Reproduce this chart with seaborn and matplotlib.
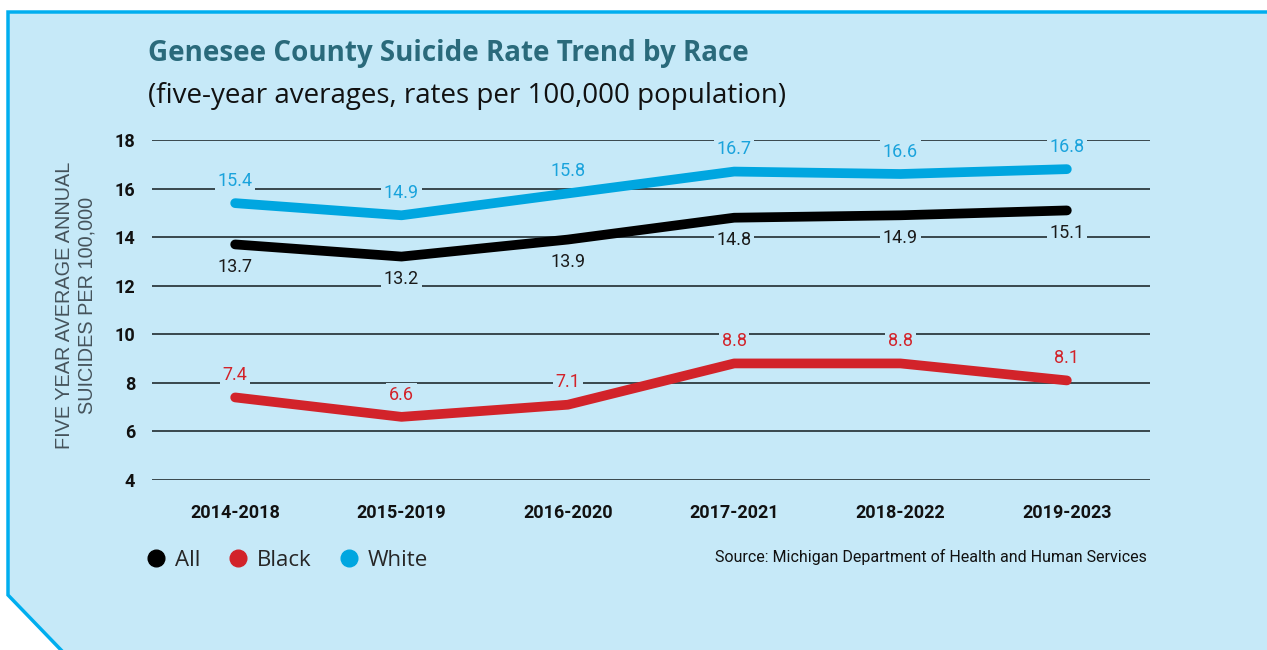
import matplotlib
matplotlib.use("Agg")
import matplotlib.pyplot as plt
from matplotlib.patches import Polygon
from matplotlib.lines import Line2D
import seaborn as sns
import pandas as pd

periods = ['2014-2018', '2015-2019', '2016-2020', '2017-2021', '2018-2022', '2019-2023']
rate_all = [13.7, 13.2, 13.9, 14.8, 14.9, 15.1]
rate_black = [7.4, 6.6, 7.1, 8.8, 8.8, 8.1]
rate_white = [15.4, 14.9, 15.8, 16.7, 16.6, 16.8]
groups = ['All', 'Black', 'White']
y_ticks = [4, 6, 8, 10, 12, 14, 16, 18]

colors = {'All': '#000000', 'Black': '#d2232a', 'White': '#00a6e0'}
label_colors = {'All': '#1a1a1a', 'Black': '#d2232a', 'White': '#1aa3dc'}
panel = '#c6e9f8'
narrow = ['Roboto', 'DejaVu Sans']

df = pd.DataFrame({
    'period': periods * 3,
    'rate': rate_all + rate_black + rate_white,
    'group': ['All'] * 6 + ['Black'] * 6 + ['White'] * 6,
})

sns.set_style('white')
W, H = 1267, 650
fig = plt.figure(figsize=(W / 100, H / 100), dpi=100)
fig.patch.set_facecolor('white')

# background panel with clipped corner
bg = fig.add_axes([0, 0, 1, 1], zorder=0)
bg.set_xlim(0, W)
bg.set_ylim(H, 0)
bg.axis('off')
pts = [(8, 12), (W + 5, 12), (W + 5, H + 5), (63, H + 5), (8, 595)]
bg.add_patch(Polygon(pts, closed=True, facecolor=panel, edgecolor='none'))
bg.plot([W + 5, 8, 8, 63], [12, 12, 595, H + 2], color='#00aeef', lw=2.5, solid_joinstyle='miter')

ax = fig.add_axes([152 / W, 1 - 480 / H, (1150 - 152) / W, (480 - 140) / H], zorder=1)
ax.patch.set_alpha(0)

sns.lineplot(data=df, x='period', y='rate', hue='group', hue_order=groups, palette=colors,
             linewidth=7, sort=False, legend=False, ax=ax, zorder=4,
             solid_capstyle='round', solid_joinstyle='round')

ax.set_xlim(-0.5, 5.5)
ax.set_ylim(4, 18)
ax.set_yticks(y_ticks)
ax.yaxis.grid(True, color='#2e3b40', lw=1.3, zorder=1)
ax.xaxis.grid(False)
ax.set_axisbelow(True)
for s in ax.spines.values():
    s.set_visible(False)
ax.set_xlabel('')
ax.set_ylabel('')
ax.tick_params(axis='y', length=0, pad=12)
ax.tick_params(axis='x', length=0, pad=17)
for t in ax.get_yticklabels() + ax.get_xticklabels():
    t.set_fontfamily(narrow)
    t.set_fontweight('bold')
    t.set_fontsize(13)
    t.set_color('#111111')

# point labels
offsets = {'All': -16, 'Black': 16, 'White': 16}
for g, vals in zip(groups, [rate_all, rate_black, rate_white]):
    for i, v in enumerate(vals):
        ax.annotate(f'{v:.1f}', (i, v), xytext=(0, offsets[g]), textcoords='offset points',
                    ha='center', va='center', fontsize=13, family=narrow,
                    color=label_colors[g], zorder=3,
                    bbox=dict(boxstyle='square,pad=0.15', fc=panel, ec='none'))

fig.text(148 / W, 1 - 54 / H, 'Genesee County Suicide Rate Trend by Race', fontsize=20,
         fontweight='bold', family=['Open Sans', 'DejaVu Sans'], color='#2a6a7b', va='center')
fig.text(148 / W, 1 - 96 / H, '(five-year averages, rates per 100,000 population)', fontsize=20,
         family=['Open Sans', 'DejaVu Sans'], color='#111111', va='center')
fig.text(76 / W, 1 - 305 / H, 'FIVE YEAR AVERAGE ANNUAL\nSUICIDES PER 100,000', rotation=90,
         ha='center', va='center', multialignment='center', fontsize=14.3, linespacing=1.2,
         family=['Liberation Sans', 'DejaVu Sans'], color='#45535b')
fig.text(1147 / W, 1 - 557 / H, 'Source: Michigan Department of Health and Human Services',
         ha='right', va='center', fontsize=11.5, family=narrow, color='#111111')

handles = [Line2D([], [], ls='none', marker='o', markersize=12, color=colors[g]) for g in groups]
leg = fig.legend(handles, groups, loc='center left', bbox_to_anchor=(149 / W, 1 - 560 / H),
                 ncol=3, frameon=False, handlelength=0.6, handletextpad=0.55, columnspacing=1.4,
                 borderpad=0, borderaxespad=0,
                 prop={'family': ['Open Sans', 'DejaVu Sans'], 'size': 16})

fig.savefig('out.png', dpi=100, facecolor='white')
